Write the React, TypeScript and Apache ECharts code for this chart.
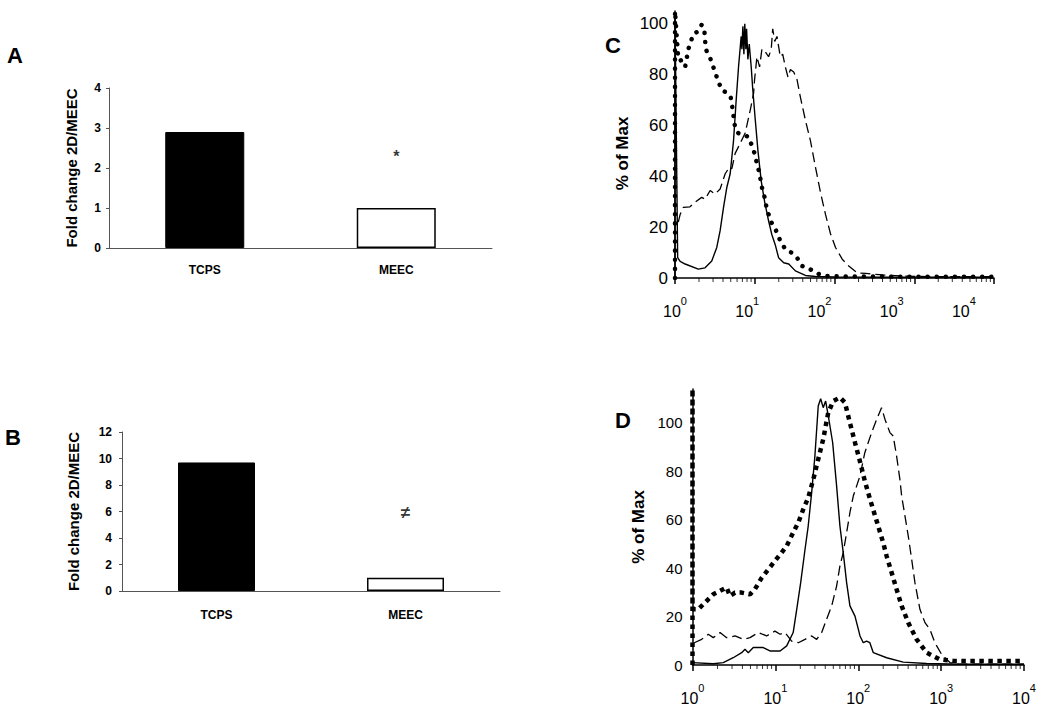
import React, { useEffect, useRef } from 'react';
import * as echarts from 'echarts';

const FONT = '"Liberation Sans", Arial, Helvetica, sans-serif';

// Panels A & B: bar charts
const barCategories = ['TCPS', 'MEEC'];
const foldChangeA = [2.9, 1.0];
const foldChangeB = [9.7, 1.0];
const markA = 2.3; // position of '*'
const markB = 5.9; // position of '≠'

// Panel C histograms: [channel, % of max]
const cSolid: [number, number][] = [
  [1, 0], [1, 104], [1.08, 8], [1.16, 6.5], [1.34, 5.5], [1.96, 3.5], [2.38, 4], [2.89, 6.7],
  [3.34, 12], [3.68, 18.6], [4.06, 27.8], [4.47, 35.7], [4.92, 41], [5.42, 54], [5.85, 70],
  [6.26, 83], [6.76, 95], [6.9, 90], [7.1, 99], [7.31, 88], [7.5, 100], [7.74, 90], [7.9, 98],
  [8.2, 86], [8.53, 92], [9.03, 83], [9.4, 75], [10.1, 63], [10.97, 50], [12.07, 38], [13.3, 30],
  [14.9, 22.5], [16.4, 17], [18.1, 13], [19.9, 8], [23.1, 6], [26.7, 5.5], [32.3, 2.8],
  [43.2, 1], [57.7, 0.6], [100, 0.4], [1000, 0.3], [9500, 0.3],
];
const cDotted: [number, number][] = [
  [1, 0], [1, 105], [1.1, 86], [1.16, 86], [1.34, 83], [1.47, 90], [1.7, 96], [1.96, 97],
  [2.16, 99.6], [2.34, 97], [2.43, 90], [2.76, 86.5], [3.18, 81], [3.51, 77], [3.94, 73.6],
  [4.47, 73], [5.0, 71], [5.3, 66], [5.5, 62], [5.68, 59], [6.2, 57], [7.59, 56], [8.36, 55.5],
  [9.21, 52], [9.95, 49], [10.65, 45], [11.5, 41], [12.3, 35.7], [13.3, 31.7], [14.2, 27],
  [16.1, 22], [18.5, 18.6], [20.9, 14.6], [24.2, 11.3], [28.8, 10], [33.9, 8], [39.2, 4.7],
  [46.7, 4], [57.7, 2], [75.5, 0.8], [150, 0.6], [1000, 0.5], [9800, 0.5],
];
const cDashed: [number, number][] = [
  [1.1, 22], [1.16, 25], [1.27, 27.8], [1.54, 28], [1.78, 29.8], [2.16, 31.7], [2.38, 31],
  [2.76, 34.4], [3.18, 33], [3.68, 35], [4.26, 41], [4.82, 43.6], [5.16, 43], [5.68, 49],
  [6.57, 53], [7.59, 57], [8.78, 66], [9.67, 72.6], [9.95, 78], [10.65, 87], [11.5, 83],
  [12.3, 90], [13.55, 89], [14.9, 87], [16.1, 90], [16.8, 98], [17.8, 93], [19.0, 95],
  [20.9, 87], [22.4, 88], [24.2, 83], [26.1, 79], [28.0, 82], [30.8, 81], [33.9, 78],
  [37.4, 71], [43.2, 62], [49.9, 54], [57.7, 43.6], [66.7, 33.7], [77.1, 25], [89.1, 17.4],
  [103, 12], [125, 7.4], [151, 4.7], [193, 2], [245, 1.8], [400, 1.2], [700, 0.8],
  [1500, 0.5], [9800, 0.5],
];

// Panel D histograms
const dSolid: [number, number][] = [
  [1, 1], [1.78, 0.5], [2.35, 1], [3.1, 3], [3.92, 5.1], [4.3, 6.5], [4.71, 5.1], [5.41, 7.2],
  [7.14, 7.2], [8.6, 5.8], [11.4, 5.8], [13.7, 7.9], [16.4, 13.4], [18.1, 23], [20.2, 34],
  [22.8, 47.8], [24.9, 57.4], [27.4, 71.2], [30.0, 86.4], [32.9, 107], [35.2, 110],
  [37.8, 106.3], [40.4, 109], [43.5, 102.9], [49.1, 91.9], [54.8, 74], [60.1, 57.4],
  [65.9, 46.4], [72.4, 34], [79.4, 24.4], [91.3, 20.2], [105, 12], [115, 9.2], [126, 9.9],
  [138, 9.2], [152, 5.1], [220, 3], [349, 1.2], [668, 0.6], [1690, 0.3], [10000, 0.3],
];
const dDotted: [number, number][] = [
  [1, 0], [1, 114], [1, 23], [1.17, 23], [1.41, 25.7], [1.78, 29.2], [2.15, 30.6], [2.58, 32],
  [2.83, 28.5], [3.26, 29.9], [3.92, 29.9], [4.94, 29.2], [5.67, 31.3], [6.83, 36],
  [8.22, 39.5], [9.89, 43], [11.9, 46.4], [13.7, 49.2], [16.4, 54.7], [18.9, 58.8],
  [21.7, 64.3], [24.9, 69.1], [28.7, 76.7], [32.9, 85], [37.8, 93.3], [43.5, 104.3],
  [49.9, 109], [60.1, 110.5], [69.1, 108.4], [79.4, 100], [91.3, 91.9], [105, 84], [120, 76],
  [140, 68], [165, 60], [200, 50.5], [220, 45], [253, 38.1], [290, 31.3], [334, 24.4],
  [401, 17.5], [506, 10.6], [668, 5.1], [967, 2.3], [1400, 1.7], [9800, 1.7],
];
const dDashed: [number, number][] = [
  [1.05, 9.2], [1.29, 10.6], [1.55, 12.7], [1.78, 11.3], [2.15, 13.4], [2.58, 11.3], [3.26, 12],
  [4.1, 10.6], [4.94, 11.3], [6.22, 13.4], [7.85, 12], [9.89, 14], [11.4, 12.7], [13.1, 13.4],
  [15.7, 9.9], [18.9, 9.2], [22.8, 10.6], [27.4, 12], [31.5, 10.6], [36.2, 13.4], [41.5, 18.9],
  [47.8, 24.4], [54.8, 32.6], [60.1, 40.9], [65.9, 46.4], [72.4, 54.7], [79.4, 63],
  [87.1, 69.8], [95.7, 74], [105, 78.1], [120, 87.7], [145, 96], [167, 101.5], [191, 106.3],
  [210, 101.5], [241, 96], [264, 94.6], [290, 86.4], [318, 76.7], [334, 69.8], [366, 61.6],
  [401, 53.3], [441, 43.7], [483, 34], [555, 23], [638, 17.5], [733, 14.7], [841, 9.2],
  [1014, 4.4], [1277, 1], [1690, 0.3], [10000, 0.3],
];

const minorTicks = [
  2, 3, 4, 5, 6, 7, 8, 9, 20, 30, 40, 50, 60, 70, 80, 90,
  200, 300, 400, 500, 600, 700, 800, 900, 2000, 3000, 4000, 5000, 6000, 7000, 8000, 9000,
];

const decadeFormatter = (v: number) => {
  const l = Math.log10(v);
  const e = Math.round(l);
  return Math.abs(l - e) < 1e-6 ? `{b|10}{s|${e}}` : '';
};
const supRich = {
  b: { fontSize: 16, fontFamily: FONT, color: '#000', lineHeight: 24, verticalAlign: 'bottom' },
  s: { fontSize: 11, fontFamily: FONT, color: '#000', lineHeight: 12, verticalAlign: 'top' },
};

export default function App() {
  const ref = useRef<HTMLDivElement>(null);
  useEffect(() => {
    if (!ref.current) return;
    const chart = echarts.init(ref.current, null, { renderer: 'svg' });
    const grey = '#555';
    const barAxisX = (gridIndex: number, margin: number) => ({
      type: 'category', gridIndex, data: barCategories,
      axisLine: { lineStyle: { color: grey, width: 1 } },
      axisTick: { length: 4, lineStyle: { color: grey } },
      axisLabel: { margin, fontSize: 12, fontWeight: 'bold', color: '#000', fontFamily: FONT },
    });
    const barAxisY = (gridIndex: number, max: number, interval: number, gap: number, margin: number) => ({
      type: 'value', gridIndex, min: 0, max, interval,
      axisLine: { show: true, lineStyle: { color: grey, width: 1 } },
      axisTick: { show: true, length: 3, lineStyle: { color: grey } },
      axisLabel: { margin, fontSize: 12, fontWeight: 'bold', color: '#000', fontFamily: FONT },
      splitLine: { show: false },
      name: 'Fold change 2D/MEEC', nameLocation: 'middle', nameGap: gap,
      nameTextStyle: { fontSize: 15, fontWeight: 'bold', color: '#000', fontFamily: FONT },
    });
    const barSeries = (idx: number, values: number[], width: number) => ({
      type: 'bar', xAxisIndex: idx, yAxisIndex: idx, barWidth: width,
      data: values.map((v, i) => ({
        value: v,
        itemStyle: i === 0
          ? { color: '#000', borderColor: '#000', borderWidth: 1 }
          : { color: '#fff', borderColor: '#000', borderWidth: 1.5 },
      })),
    });
    const markSeries = (idx: number, value: number, text: string, size: number) => ({
      type: 'scatter', xAxisIndex: idx, yAxisIndex: idx, symbolSize: 0,
      data: [[barCategories[1], value]],
      label: { show: true, position: 'inside', formatter: text, fontSize: size, fontWeight: 'bold', color: '#000', fontFamily: FONT },
    });
    const histLine = (xi: number, yi: number, data: [number, number][], kind: string) => {
      let lineStyle: any = { color: '#000', width: 1.4, type: 'solid' };
      if (kind === 'dotC') lineStyle = { color: '#000', width: 4.5, type: [0.1, 9], cap: 'round' };
      if (kind === 'dotD') lineStyle = { color: '#000', width: 4.5, type: [4.5, 4.5], cap: 'butt' };
      if (kind === 'dash') lineStyle = { color: '#000', width: 1.3, type: [10, 5] };
      return { type: 'line', xAxisIndex: xi, yAxisIndex: yi, data, symbol: 'none', showSymbol: false, lineStyle, silent: true };
    };
    const minorSeries = (xi: number, yi: number) => ({
      type: 'scatter', xAxisIndex: xi, yAxisIndex: yi, clip: false, silent: true,
      symbol: 'rect', symbolSize: [1, 4], symbolOffset: [0, 2],
      itemStyle: { color: '#000' },
      data: minorTicks.map((v) => [v, 0]),
    });
    const hideNonTwenty = (v: number) => (v % 20 === 0 ? String(v) : '');

    chart.setOption({
      animation: false,
      backgroundColor: '#fff',
      grid: [
        { left: 109, top: 88, width: 383, height: 160 },
        { left: 122, top: 432, width: 378, height: 159 },
        { left: 675, top: 11, width: 319, height: 267 },
        { left: 692.5, top: 389, width: 331.5, height: 276 },
      ],
      xAxis: [
        barAxisX(0, 16),
        barAxisX(1, 18),
        {
          type: 'log', logBase: 10, gridIndex: 2, min: 1, max: 10000, position: 'bottom',
          axisLine: { lineStyle: { color: '#000', width: 1.5 } },
          axisTick: { length: 6, lineStyle: { color: '#000', width: 1.5 } },
          axisLabel: { show: false }, splitLine: { show: false },
        },
        {
          type: 'log', logBase: 10, gridIndex: 2, min: 1, max: 26100, position: 'bottom',
          axisLine: { show: false }, axisTick: { show: false }, splitLine: { show: false },
          axisLabel: { margin: 17, formatter: decadeFormatter, rich: supRich },
        },
        {
          type: 'log', logBase: 10, gridIndex: 3, min: 1, max: 10000, position: 'bottom',
          axisLine: { lineStyle: { color: '#000', width: 1.5 } },
          axisTick: { length: 6, lineStyle: { color: '#000', width: 1.5 } },
          axisLabel: { margin: 17, formatter: decadeFormatter, rich: supRich },
          splitLine: { show: false },
        },
      ],
      yAxis: [
        barAxisY(0, 4, 1, 30, 8),
        barAxisY(1, 12, 2, 41, 10),
        {
          type: 'value', gridIndex: 2, min: 0, max: 105, interval: 20,
          axisLine: { show: true, lineStyle: { color: '#000', width: 1.5 } },
          axisTick: { show: false }, splitLine: { show: false },
          axisLabel: { margin: 7, fontSize: 17, color: '#000', fontFamily: FONT, formatter: hideNonTwenty },
          name: '% of Max', nameLocation: 'middle', nameGap: 44,
          nameTextStyle: { fontSize: 17, fontWeight: 'bold', color: '#000', fontFamily: FONT, padding: [0, 18, 0, 0] },
        },
        {
          type: 'value', gridIndex: 3, min: 0, max: 114, interval: 20,
          axisLine: { show: true, lineStyle: { color: '#000', width: 1.5 } },
          axisTick: { show: false }, splitLine: { show: false },
          axisLabel: { margin: 10, fontSize: 15, color: '#000', fontFamily: FONT, formatter: hideNonTwenty },
          name: '% of Max', nameLocation: 'middle', nameGap: 46,
          nameTextStyle: { fontSize: 17, fontWeight: 'bold', color: '#000', fontFamily: FONT },
        },
      ],
      series: [
        barSeries(0, foldChangeA, 79),
        barSeries(1, foldChangeB, 77),
        markSeries(0, markA, '*', 16),
        markSeries(1, markB, '≠', 17),
        histLine(2, 2, cDashed, 'dash'),
        histLine(2, 2, cSolid, 'solid'),
        histLine(2, 2, cDotted, 'dotC'),
        minorSeries(2, 2),
        histLine(4, 3, dDashed, 'dash'),
        histLine(4, 3, dSolid, 'solid'),
        histLine(4, 3, dDotted, 'dotD'),
        minorSeries(4, 3),
      ],
      graphic: [
        { type: 'text', x: 15, y: 55, style: { text: 'A', fontSize: 22, fontWeight: 'bold', fontFamily: FONT, fill: '#000', align: 'center', verticalAlign: 'middle' } },
        { type: 'text', x: 13, y: 437, style: { text: 'B', fontSize: 22, fontWeight: 'bold', fontFamily: FONT, fill: '#000', align: 'center', verticalAlign: 'middle' } },
        { type: 'text', x: 613, y: 45, style: { text: 'C', fontSize: 22, fontWeight: 'bold', fontFamily: FONT, fill: '#000', align: 'center', verticalAlign: 'middle' } },
        { type: 'text', x: 623, y: 420, style: { text: 'D', fontSize: 22, fontWeight: 'bold', fontFamily: FONT, fill: '#000', align: 'center', verticalAlign: 'middle' } },
      ],
    });
    return () => chart.dispose();
  }, []);
  return <div ref={ref} style={{ position: 'fixed', left: 0, top: 0, width: 1050, height: 713, background: '#fff' }} />;
}
